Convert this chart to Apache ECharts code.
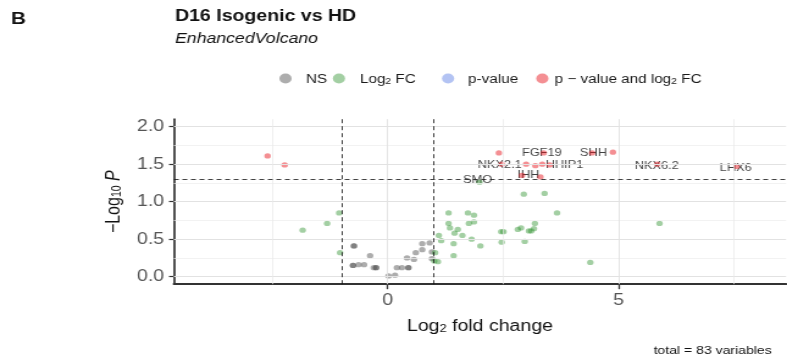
<!DOCTYPE html>
<html><head><meta charset="utf-8">
<script src="https://cdn.jsdelivr.net/npm/echarts@6.0.0/dist/echarts.min.js"></script>
<style>html,body{margin:0;padding:0;background:#fff;overflow:hidden}
#wrap{width:787px;height:363px;overflow:hidden}
#chart{width:645px;height:363px;transform:scaleX(1.22016);transform-origin:0 0}</style>
</head><body><div id="wrap"><div id="chart"></div></div>
<script>
// ---- data (log2 fold change, -log10 p) ----
const nsX = [-0.73,-0.73,-0.75,-0.75,-0.63,-0.51,-0.38,-0.30,-0.25,-0.25,0.02,0.16,0.20,0.31,0.45,0.45,0.42,0.57,0.61,0.75,0.75,0.91,0.96,0.96];
const nsY = [0.41,0.41,0.15,0.15,0.16,0.16,0.28,0.12,0.12,0.12,0.01,0.02,0.12,0.12,0.12,0.12,0.25,0.23,0.32,0.36,0.44,0.45,0.33,0.24];
const fcX = [-1.05,-1.31,-1.84,-1.03,1.03,1.01,1.09,1.11,1.16,1.32,1.32,1.35,1.45,1.52,1.62,1.43,1.43,1.74,1.87,1.87,1.76,1.82,2.01,1.99,2.46,2.51,2.47,2.82,2.89,2.97,3.06,3.11,3.17,3.19,2.95,3.40,3.67,4.39,5.89];
const fcY = [0.85,0.71,0.62,0.32,0.32,0.21,0.20,0.55,0.48,0.85,0.71,0.65,0.58,0.63,0.55,0.44,0.28,0.85,0.82,0.73,0.71,0.50,0.41,1.26,0.60,0.60,0.46,0.63,0.65,0.47,0.61,0.61,0.64,0.71,1.10,1.11,0.85,0.19,0.71];
const pvX = [];
const pvY = [];
const bothX = [-2.60,-2.23,2.41,3.38,4.43,4.88,2.47,3.00,3.20,3.35,3.51,2.91,3.31,5.84,7.56];
const bothY = [1.61,1.49,1.65,1.65,1.65,1.66,1.50,1.50,1.48,1.50,1.49,1.35,1.33,1.50,1.47];
const labelNames = ['FGF19','SHH','NKX2.1','HHIP1','IHH','SMO','NKX6.2','LHX6'];
const labelX = [3.34,4.46,2.43,3.83,3.05,1.95,5.83,7.54];
const labelY = [1.65,1.65,1.49,1.49,1.35,1.29,1.48,1.45];
const xTicks = [0,5];
const xMinorTicks = [-2.5,2.5,7.5];
const yTicks = [0,0.5,1.0,1.5,2.0];
const yMinorTicks = [0.25,0.75,1.25,1.75];
const FCcutoff = 1;
const pCutoff = 0.05;
const legendNames = ['NS','Log2 FC','p-value','p \u2212 value and log2 FC'];
const totalVariables = 83;

const zip = (xs, ys) => xs.map((x,i)=>[x, ys[i]]);
const sub = {fontSize: 8.5, lineHeight: 5, verticalAlign: 'bottom', color:'#1a1a1a'};
const n = {fontSize: 12.5, lineHeight: 15, verticalAlign: 'bottom', color:'#1a1a1a'};
function legendFmt(name){
  if (name === 'Log2 FC') return '{n|Log}{sub|2}{n| FC}';
  if (name.indexOf('log2') >= 0) return '{n|p \u2212 value and log}{sub|2}{n| FC}';
  return '{n|' + name + '}';
}
const colors = ['rgba(77,77,77,0.58)','rgba(34,139,34,0.52)','rgba(65,105,225,0.5)','rgba(232,20,30,0.6)'];
const legendLeft = [229, 272.8, 362.2, 439.5];
const legendPad = [6.7, 7.2, 6.4, 0];

const chart = echarts.init(document.getElementById('chart'), null, {renderer:'canvas'});
const gl = (c,w) => ({color:c, width:w, type:'solid'});
chart.setOption({
  animation: false,
  backgroundColor: '#fff',
  title: [
    {text:'B', left: 9, top: 10.5, padding: 0, textStyle:{fontSize:17, fontWeight:'bold', color:'#111', fontFamily:'Liberation Sans'}},
    {text:'D16 Isogenic vs HD', left: 143.4, top: 8.5, padding:0, textStyle:{fontSize:16, fontWeight:'bold', color:'#111', fontFamily:'Liberation Sans'}},
    {text:'EnhancedVolcano', left: 143.4, top: 31, padding:0, textStyle:{fontSize:14.5, fontStyle:'italic', fontWeight:'normal', color:'#111', fontFamily:'Liberation Sans'}},
    {text:'total = ' + totalVariables + ' variables', right: 12.5, top: 345, padding:0, textStyle:{fontSize:11.5, fontWeight:'normal', color:'#111', fontFamily:'Liberation Sans'}}
  ],
  legend: legendNames.map((nm,i)=>({
    data:[{name:nm, icon:'circle', itemStyle:{color: colors[i]}}],
    left: legendLeft[i], top: 73, padding: 0,
    itemWidth: 10, itemHeight: 10,
    selectedMode: false,
    formatter: legendFmt,
    textStyle:{fontFamily:'Liberation Sans', padding:[0,0,0,legendPad[i]], rich:{n:n, sub:sub}}
  })),
  grid: {left: 142.5, right: 0.8, top: 119.2, bottom: 78.8, containLabel:false, outerBoundsMode:'none'},
  xAxis: {
    type:'value', min:-4.63, max:8.63,
    name:'{n|Log}{sub|2}{n| fold change}', nameLocation:'middle', nameGap: 32,
    nameTextStyle:{fontFamily:'Liberation Sans', rich:{n:{fontSize:16, lineHeight:18, verticalAlign:'bottom', color:'#111'}, sub:{fontSize:10.5, lineHeight:6, verticalAlign:'bottom', color:'#111'}}},
    axisLine:{show:true, onZero:false, lineStyle:{color:'#333', width:2}},
    axisTick:{show:true, customValues:xTicks, length:5, lineStyle:{color:'#333', width:1.3}},
    axisLabel:{show:true, customValues:xTicks, margin:8, fontSize:16, color:'#555', fontFamily:'Liberation Sans'},
    splitLine:{show:false}
  },
  yAxis: {
    type:'value', min:-0.1, max:2.1,
    name:'{n|\u2212Log}{sub|10}{it| P}', nameLocation:'middle', nameGap: 37, nameRotate: 90,
    nameTextStyle:{fontFamily:'Liberation Sans', rich:{n:{fontSize:16, lineHeight:18, verticalAlign:'bottom', color:'#111'}, sub:{fontSize:10.5, lineHeight:6, verticalAlign:'bottom', color:'#111'}, it:{fontSize:16, lineHeight:18, fontStyle:'italic', verticalAlign:'bottom', color:'#111'}}},
    axisLine:{show:true, onZero:false, lineStyle:{color:'#333', width:1.7}},
    axisTick:{show:true, customValues:yTicks, length:4, lineStyle:{color:'#333', width:1.2}},
    axisLabel:{show:true, customValues:yTicks, margin:8, fontSize:16, color:'#555', fontFamily:'Liberation Sans', padding:[3,0,0,0], formatter:(v)=>Number(v).toFixed(1)},
    splitLine:{show:false}
  },
  series: [
    {type:'scatter', name:'_grid', data:[], silent:true, z:1,
     markLine:{silent:true, symbol:'none', label:{show:false}, animation:false,
       data:[
         ...yTicks.map(v=>({yAxis:v, lineStyle:gl('#e2e2e2',1.1)})),
         ...yMinorTicks.map(v=>({yAxis:v, lineStyle:gl('#ececec',0.7)})),
         ...xTicks.map(v=>({xAxis:v, lineStyle:gl('#e2e2e2',0.9)})),
         ...xMinorTicks.map(v=>({xAxis:v, lineStyle:gl('#eaeaea',0.7)}))
       ]}},
    {type:'scatter', name:'_labels', silent:true, z:2,
     data: labelNames.map((nm,i)=>({name:nm, value:[labelX[i], labelY[i]]})),
     symbolSize: 0,
     label:{show:true, position:'inside', formatter:(p)=>p.name, fontSize:10.5, color:'#111', fontFamily:'Liberation Sans'}},
    {type:'scatter', name:'NS', data:zip(nsX,nsY), symbol:'circle', symbolSize:5.3, itemStyle:{color:colors[0]}, z:3},
    {type:'scatter', name:'Log2 FC', data:zip(fcX,fcY), symbol:'circle', symbolSize:5.3, itemStyle:{color:colors[1]}, z:3},
    {type:'scatter', name:'p-value', data:zip(pvX,pvY), symbol:'circle', symbolSize:5.3, itemStyle:{color:colors[2]}, z:3},
    {type:'scatter', name:'p \u2212 value and log2 FC', data:zip(bothX,bothY), symbol:'circle', symbolSize:5.3, itemStyle:{color:colors[3]}, z:3},
    {type:'scatter', name:'_cutoffs', data:[], silent:true, z:5,
     markLine:{silent:true, symbol:'none', label:{show:false}, animation:false,
       lineStyle:{color:'#111', width:0.8, type:[4,3]},
       data:[{xAxis:-FCcutoff},{xAxis:FCcutoff},{yAxis:-Math.log10(pCutoff)}]}}
  ]
});
</script></body></html>
